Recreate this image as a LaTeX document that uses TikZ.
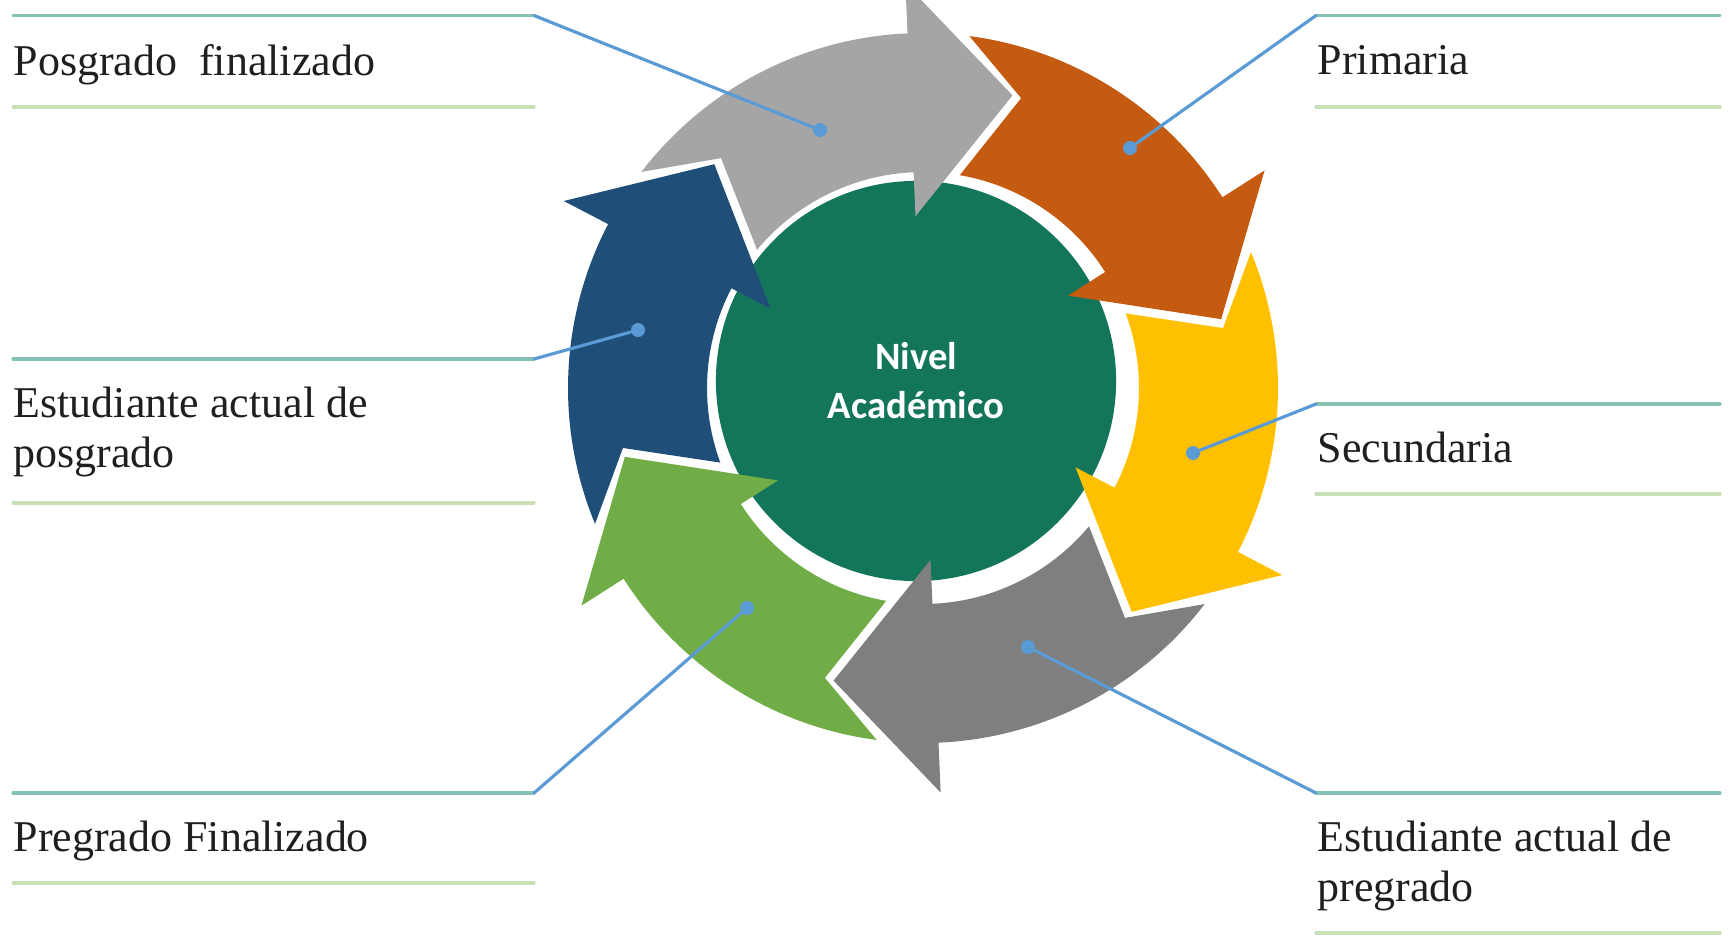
\documentclass[tikz,border=0pt]{standalone}
\usepackage{fontspec}
\setmainfont{Liberation Serif}
\newfontfamily\hubfont{Carlito}
\usepackage{tikz}
\usetikzlibrary{positioning}

\definecolor{arrowgray}{HTML}{A5A5A5}
\definecolor{arroworange}{HTML}{C55A11}
\definecolor{arrowyellow}{HTML}{FFC000}
\definecolor{arrowdark}{HTML}{7F7F7F}
\definecolor{arrowgreen}{HTML}{70AD47}
\definecolor{arrowblue}{HTML}{1F4E79}
\definecolor{hubgreen}{HTML}{13765A}
\definecolor{leaderblue}{HTML}{5B9BD5}
\definecolor{ruletop}{HTML}{86C2B4}
\definecolor{rulebot}{HTML}{C9DFB6}

\begin{document}
\begin{tikzpicture}[x=0.01cm, y=0.01cm, line cap=round]
\tikzstyle{hub} = [circle, fill=hubgreen, minimum size=4cm, inner sep=0pt, align=center, text=white, font=\hubfont\bfseries\fontsize{11}{13.9}\selectfont]
\tikzstyle{dot} = [circle, fill=leaderblue, minimum size=0.14cm, inner sep=0pt]
\tikzstyle{leader} = [draw=leaderblue, line width=0.9pt]
\tikzstyle{toprule} = [draw=ruletop, line width=0.9pt]
\tikzstyle{botrule} = [draw=rulebot, line width=0.9pt]
\tikzstyle{label} = [anchor=base west, inner sep=0pt, align=left, text=black!88, font=\fontsize{12.5}{14.2}\selectfont]

\fill[white] (0,0) rectangle (1734,935);
\useasboundingbox (0,0) rectangle (1734,935);

\node[hub] (NIVEL) at (916,554) {Nivel\\Académico};

% six chevron arrows round the hub, tip angles clockwise
\begin{scope}[shift={(923,547)}]
\foreach \tip/\col in {73/arrowgray, 13/arroworange, -47/arrowyellow, -107/arrowdark, -167/arrowgreen, 133/arrowblue}
  \fill[\col] (\tip+69.5:355) arc[start angle=\tip+69.5, end angle=\tip+19.5, radius=355]
     -- (\tip+19.5:405) -- (\tip:306) -- (\tip+19.5:172) -- (\tip+19.5:216)
     arc[start angle=\tip+19.5, end angle=\tip+67.2, radius=216]
     -- (\tip+58.3:306) -- cycle;
\end{scope}

\node[dot] (DOTPOSGFIN) at (820,805) {};
\node[dot] (DOTPRIM) at (1130,787) {};
\node[dot] (DOTSEC) at (1193,482) {};
\node[dot] (DOTPREGACT) at (1028,288) {};
\node[dot] (DOTPREGFIN) at (747,327) {};
\node[dot] (DOTPOSGACT) at (638,605) {};

% left column
\coordinate (POSGFINEND) at (534,919.5);
\coordinate (POSGACTEND) at (534,576);
\coordinate (PREGFINEND) at (534,142);
\path[toprule] (13,919.5) -- (POSGFINEND);
\path[botrule] (13,828) -- (534,828);
\node[label] (POSGFIN) at (13,860) {Posgrado\ \ finalizado};
\path[toprule] (13,576) -- (POSGACTEND);
\path[botrule] (13,432) -- (534,432);
\node[label] (POSGACT) at (13,468) {Estudiante actual de\\posgrado};
\path[toprule] (13,142) -- (PREGFINEND);
\path[botrule] (13,52) -- (534,52);
\node[label] (PREGFIN) at (13,84) {Pregrado Finalizado};

% right column
\coordinate (PRIMEND) at (1316,919.5);
\coordinate (SECEND) at (1316,531);
\coordinate (PREGACTEND) at (1316,142);
\path[toprule] (PRIMEND) -- (1720,919.5);
\path[botrule] (1316,828) -- (1720,828);
\node[label] (PRIM) at (1317,861) {Primaria};
\path[toprule] (SECEND) -- (1720,531);
\path[botrule] (1316,441) -- (1720,441);
\node[label] (SEC) at (1317,473) {Secundaria};
\path[toprule] (PREGACTEND) -- (1720,142);
\path[botrule] (1316,2) -- (1720,2);
\node[label] (PREGACT) at (1317,34) {Estudiante actual de\\pregrado};

\path[leader] (POSGFINEND) -- (DOTPOSGFIN);
\path[leader] (POSGACTEND) -- (DOTPOSGACT);
\path[leader] (PREGFINEND) -- (DOTPREGFIN);
\path[leader] (PRIMEND) -- (DOTPRIM);
\path[leader] (SECEND) -- (DOTSEC);
\path[leader] (PREGACTEND) -- (DOTPREGACT);
\end{tikzpicture}
\end{document}
